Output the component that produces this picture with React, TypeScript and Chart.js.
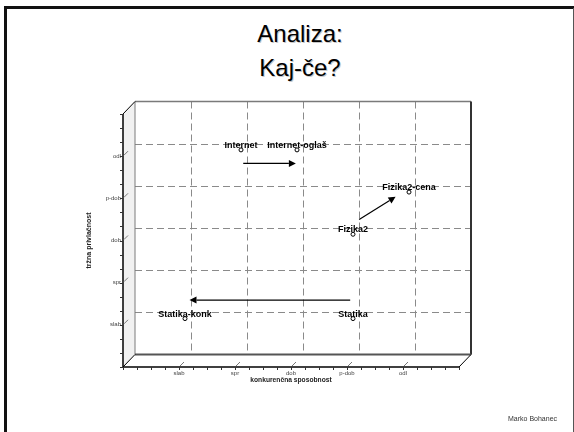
import React, { useEffect, useRef } from "react";
import { Chart, registerables } from "chart.js";

Chart.register(...registerables);

const X_LABELS = ["slab", "spr", "dob", "p-dob", "odl"];
const Y_LABELS = ["slab", "spr", "dob", "p-dob", "odl"];
const X_TITLE = "konkurenčna sposobnost";
const Y_TITLE = "tržna privlačnost";

const POINT_NAMES = ["Internet", "Internet-oglaš", "Fizika2", "Fizika2-cena", "Statika", "Statika-konk"];
const POINT_X = [2, 3, 4, 5, 4, 1];
const POINT_Y = [5, 5, 3, 4, 1, 1];

const ARROW_FROM_X = [2.04, 4.11, 3.95];
const ARROW_FROM_Y = [4.68, 3.35, 1.44];
const ARROW_TO_X = [2.98, 4.76, 1.08];
const ARROW_TO_Y = [4.68, 3.89, 1.44];

const HEADING = ["Analiza:", "Kaj-če?"];
const AUTHOR = "Marko Bohanec";

const FONT = "'Liberation Sans', Arial, Helvetica, sans-serif";
const DX = 12;
const DY = 12.5;

function line(ctx: CanvasRenderingContext2D, x1: number, y1: number, x2: number, y2: number) {
  ctx.beginPath();
  ctx.moveTo(x1, y1);
  ctx.lineTo(x2, y2);
  ctx.stroke();
}

const frame3d = {
  id: "frame3d",
  beforeDatasetsDraw(chart: any) {
    const { ctx, chartArea, scales } = chart;
    const { left, top, right, bottom } = chartArea;
    const xs = scales.x;
    const ys = scales.y;
    ctx.save();
    // left wall
    ctx.fillStyle = "#f1f1f1";
    ctx.beginPath();
    ctx.moveTo(left, top);
    ctx.lineTo(left + DX, top - DY);
    ctx.lineTo(left + DX, bottom - DY);
    ctx.lineTo(left, bottom);
    ctx.closePath();
    ctx.fill();

    // back grid (dashed)
    ctx.strokeStyle = "#8a8a8a";
    ctx.lineWidth = 1;
    ctx.setLineDash([7, 4]);
    xs.ticks.forEach((t: any) => {
      if (t.value <= xs.min || t.value >= xs.max) return;
      const px = Math.round(xs.getPixelForValue(t.value) + DX) + 0.5;
      line(ctx, px, top - DY, px, bottom - DY);
    });
    ys.ticks.forEach((t: any) => {
      if (t.value <= ys.min || t.value >= ys.max) return;
      const py = Math.round(ys.getPixelForValue(t.value) - DY) + 0.5;
      line(ctx, left + DX, py, right + DX, py);
    });
    ctx.setLineDash([]);

    // back plane edges
    ctx.strokeStyle = "#7a7a7a";
    ctx.lineWidth = 1.5;
    line(ctx, left + DX, top - DY, right + DX, top - DY);
    ctx.lineWidth = 1;
    line(ctx, left + DX, top - DY, left + DX, bottom - DY);
    ctx.strokeStyle = "#333";
    ctx.lineWidth = 2;
    line(ctx, right + DX, top - DY, right + DX, bottom - DY);
    ctx.strokeStyle = "#555";
    line(ctx, left + DX, bottom - DY, right + DX, bottom - DY);

    // front edges
    ctx.strokeStyle = "#000";
    ctx.lineWidth = 1.5;
    line(ctx, left, top, left, bottom);
    line(ctx, left, bottom, right, bottom);
    ctx.lineWidth = 1;
    line(ctx, left, top, left + DX, top - DY);
    line(ctx, left, bottom, left + DX, bottom - DY);
    line(ctx, right, bottom, right + DX, bottom - DY);

    // minor ticks
    ctx.strokeStyle = "#333";
    ctx.lineWidth = 1;
    for (let v = xs.min; v <= xs.max + 1e-6; v += 0.25) {
      const px = Math.round(xs.getPixelForValue(v)) + 0.5;
      line(ctx, px, bottom, px, bottom + 3);
    }
    for (let v = ys.min; v <= ys.max + 1e-6; v += 1 / 3) {
      const py = Math.round(ys.getPixelForValue(v)) + 0.5;
      line(ctx, left - 3, py, left, py);
    }
    // depth ticks at majors
    ctx.strokeStyle = "#777";
    xs.ticks.forEach((t: any) => {
      if (t.value <= xs.min || t.value >= xs.max) return;
      const px = xs.getPixelForValue(t.value);
      line(ctx, px + 1, bottom - 1, px + 5, bottom - 5);
    });
    ys.ticks.forEach((t: any) => {
      if (t.value <= ys.min || t.value >= ys.max) return;
      const py = ys.getPixelForValue(t.value);
      line(ctx, left + 1, py - 1, left + 5, py - 5);
    });
    ctx.restore();

    ctx.save();
    ctx.translate(DX / 2, -DY / 2);
  },
  afterDatasetsDraw(chart: any) {
    const { ctx, scales } = chart;
    const xs = scales.x;
    const ys = scales.y;
    // arrows
    ctx.strokeStyle = "#000";
    ctx.fillStyle = "#000";
    ctx.lineWidth = 1.2;
    for (let i = 0; i < ARROW_FROM_X.length; i++) {
      const x1 = xs.getPixelForValue(ARROW_FROM_X[i]);
      const y1 = ys.getPixelForValue(ARROW_FROM_Y[i]);
      const x2 = xs.getPixelForValue(ARROW_TO_X[i]);
      const y2 = ys.getPixelForValue(ARROW_TO_Y[i]);
      const ang = Math.atan2(y2 - y1, x2 - x1);
      const hl = 7;
      const hw = 3.5;
      const bx = x2 - hl * Math.cos(ang);
      const by = y2 - hl * Math.sin(ang);
      line(ctx, x1, y1, bx, by);
      ctx.beginPath();
      ctx.moveTo(x2, y2);
      ctx.lineTo(bx + hw * Math.sin(ang), by - hw * Math.cos(ang));
      ctx.lineTo(bx - hw * Math.sin(ang), by + hw * Math.cos(ang));
      ctx.closePath();
      ctx.fill();
    }
    // point labels
    const meta = chart.getDatasetMeta(0);
    ctx.font = `bold 9px ${FONT}`;
    ctx.textAlign = "center";
    ctx.textBaseline = "middle";
    ctx.fillStyle = "#000";
    meta.data.forEach((el: any, i: number) => {
      ctx.fillText(POINT_NAMES[i], el.x, el.y - 4.5);
    });
    ctx.restore();
  },
};

export default function App() {
  const ref = useRef<HTMLCanvasElement>(null);

  useEffect(() => {
    if (!ref.current) return;
    const chart = new Chart(ref.current, {
      type: "scatter",
      data: {
        datasets: [
          {
            label: "points",
            data: POINT_X.map((x, i) => ({ x, y: POINT_Y[i] })),
            pointRadius: 2,
            pointHoverRadius: 2,
            pointBorderWidth: 1,
            borderColor: "#000",
            backgroundColor: "#fff",
            showLine: false,
            clip: false as any,
          },
        ],
      },
      options: {
        animation: false,
        responsive: false,
        devicePixelRatio: 1,
        events: [],
        layout: { padding: { left: 85, top: 114, right: 115, bottom: 48 } },
        plugins: {
          legend: { display: false },
          tooltip: { enabled: false },
          title: { display: false },
        },
        scales: {
          x: {
            type: "linear",
            position: "bottom",
            min: 0,
            max: 6,
            grid: { display: false, drawTicks: false },
            border: { display: false },
            ticks: {
              stepSize: 1,
              autoSkip: false,
              maxRotation: 0,
              padding: 3,
              color: "#444",
              font: { size: 6, family: FONT },
              callback: (v: any) => X_LABELS[Number(v) - 1] ?? "",
            },
            title: {
              display: true,
              text: X_TITLE,
              color: "#222",
              font: { size: 6.7, weight: "bold", family: FONT },
              padding: { top: 0, bottom: 0 },
            },
            afterFit: (s: any) => {
              s.height = 17;
            },
          },
          y: {
            type: "linear",
            position: "left",
            min: 0,
            max: 6,
            grid: { display: false, drawTicks: false },
            border: { display: false },
            ticks: {
              stepSize: 1,
              autoSkip: false,
              padding: 2,
              color: "#444",
              font: { size: 6, family: FONT },
              callback: (v: any) => Y_LABELS[Number(v) - 1] ?? "",
            },
            title: {
              display: true,
              text: Y_TITLE,
              color: "#222",
              font: { size: 7, weight: "bold", family: FONT },
              padding: { top: 0, bottom: 0 },
            },
            afterFit: (s: any) => {
              s.width = 38;
            },
          },
        },
      },
      plugins: [frame3d],
    });
    return () => chart.destroy();
  }, []);

  return (
    <div
      style={{
        position: "fixed",
        left: 0,
        top: 0,
        width: 574,
        height: 432,
        overflow: "hidden",
        background: "#fff",
        fontFamily: FONT,
      }}
    >
      <div style={{ position: "absolute", left: 4, top: 6, width: 570, height: 2.5, background: "#111" }} />
      <div style={{ position: "absolute", left: 4, top: 6, width: 2.5, height: 426, background: "#111" }} />
      <div style={{ position: "absolute", left: 573, top: 8, width: 1, height: 424, background: "#555" }} />
      <div
        style={{
          position: "absolute",
          left: 150,
          top: 17,
          width: 300,
          textAlign: "center",
          fontSize: 24,
          lineHeight: "34px",
          color: "#000",
          textShadow: "1px 1px 0 #c8c8c8",
        }}
      >
        {HEADING.map((h, i) => (
          <div key={i}>{h}</div>
        ))}
      </div>
      <canvas
        ref={ref}
        width={574}
        height={432}
        style={{ position: "absolute", left: 0, top: 0, width: 574, height: 432, display: "block" }}
      />
      <div
        style={{
          position: "absolute",
          left: 508,
          top: 415,
          fontSize: 7,
          lineHeight: "8px",
          color: "#333",
          whiteSpace: "nowrap",
        }}
      >
        {AUTHOR}
      </div>
    </div>
  );
}
